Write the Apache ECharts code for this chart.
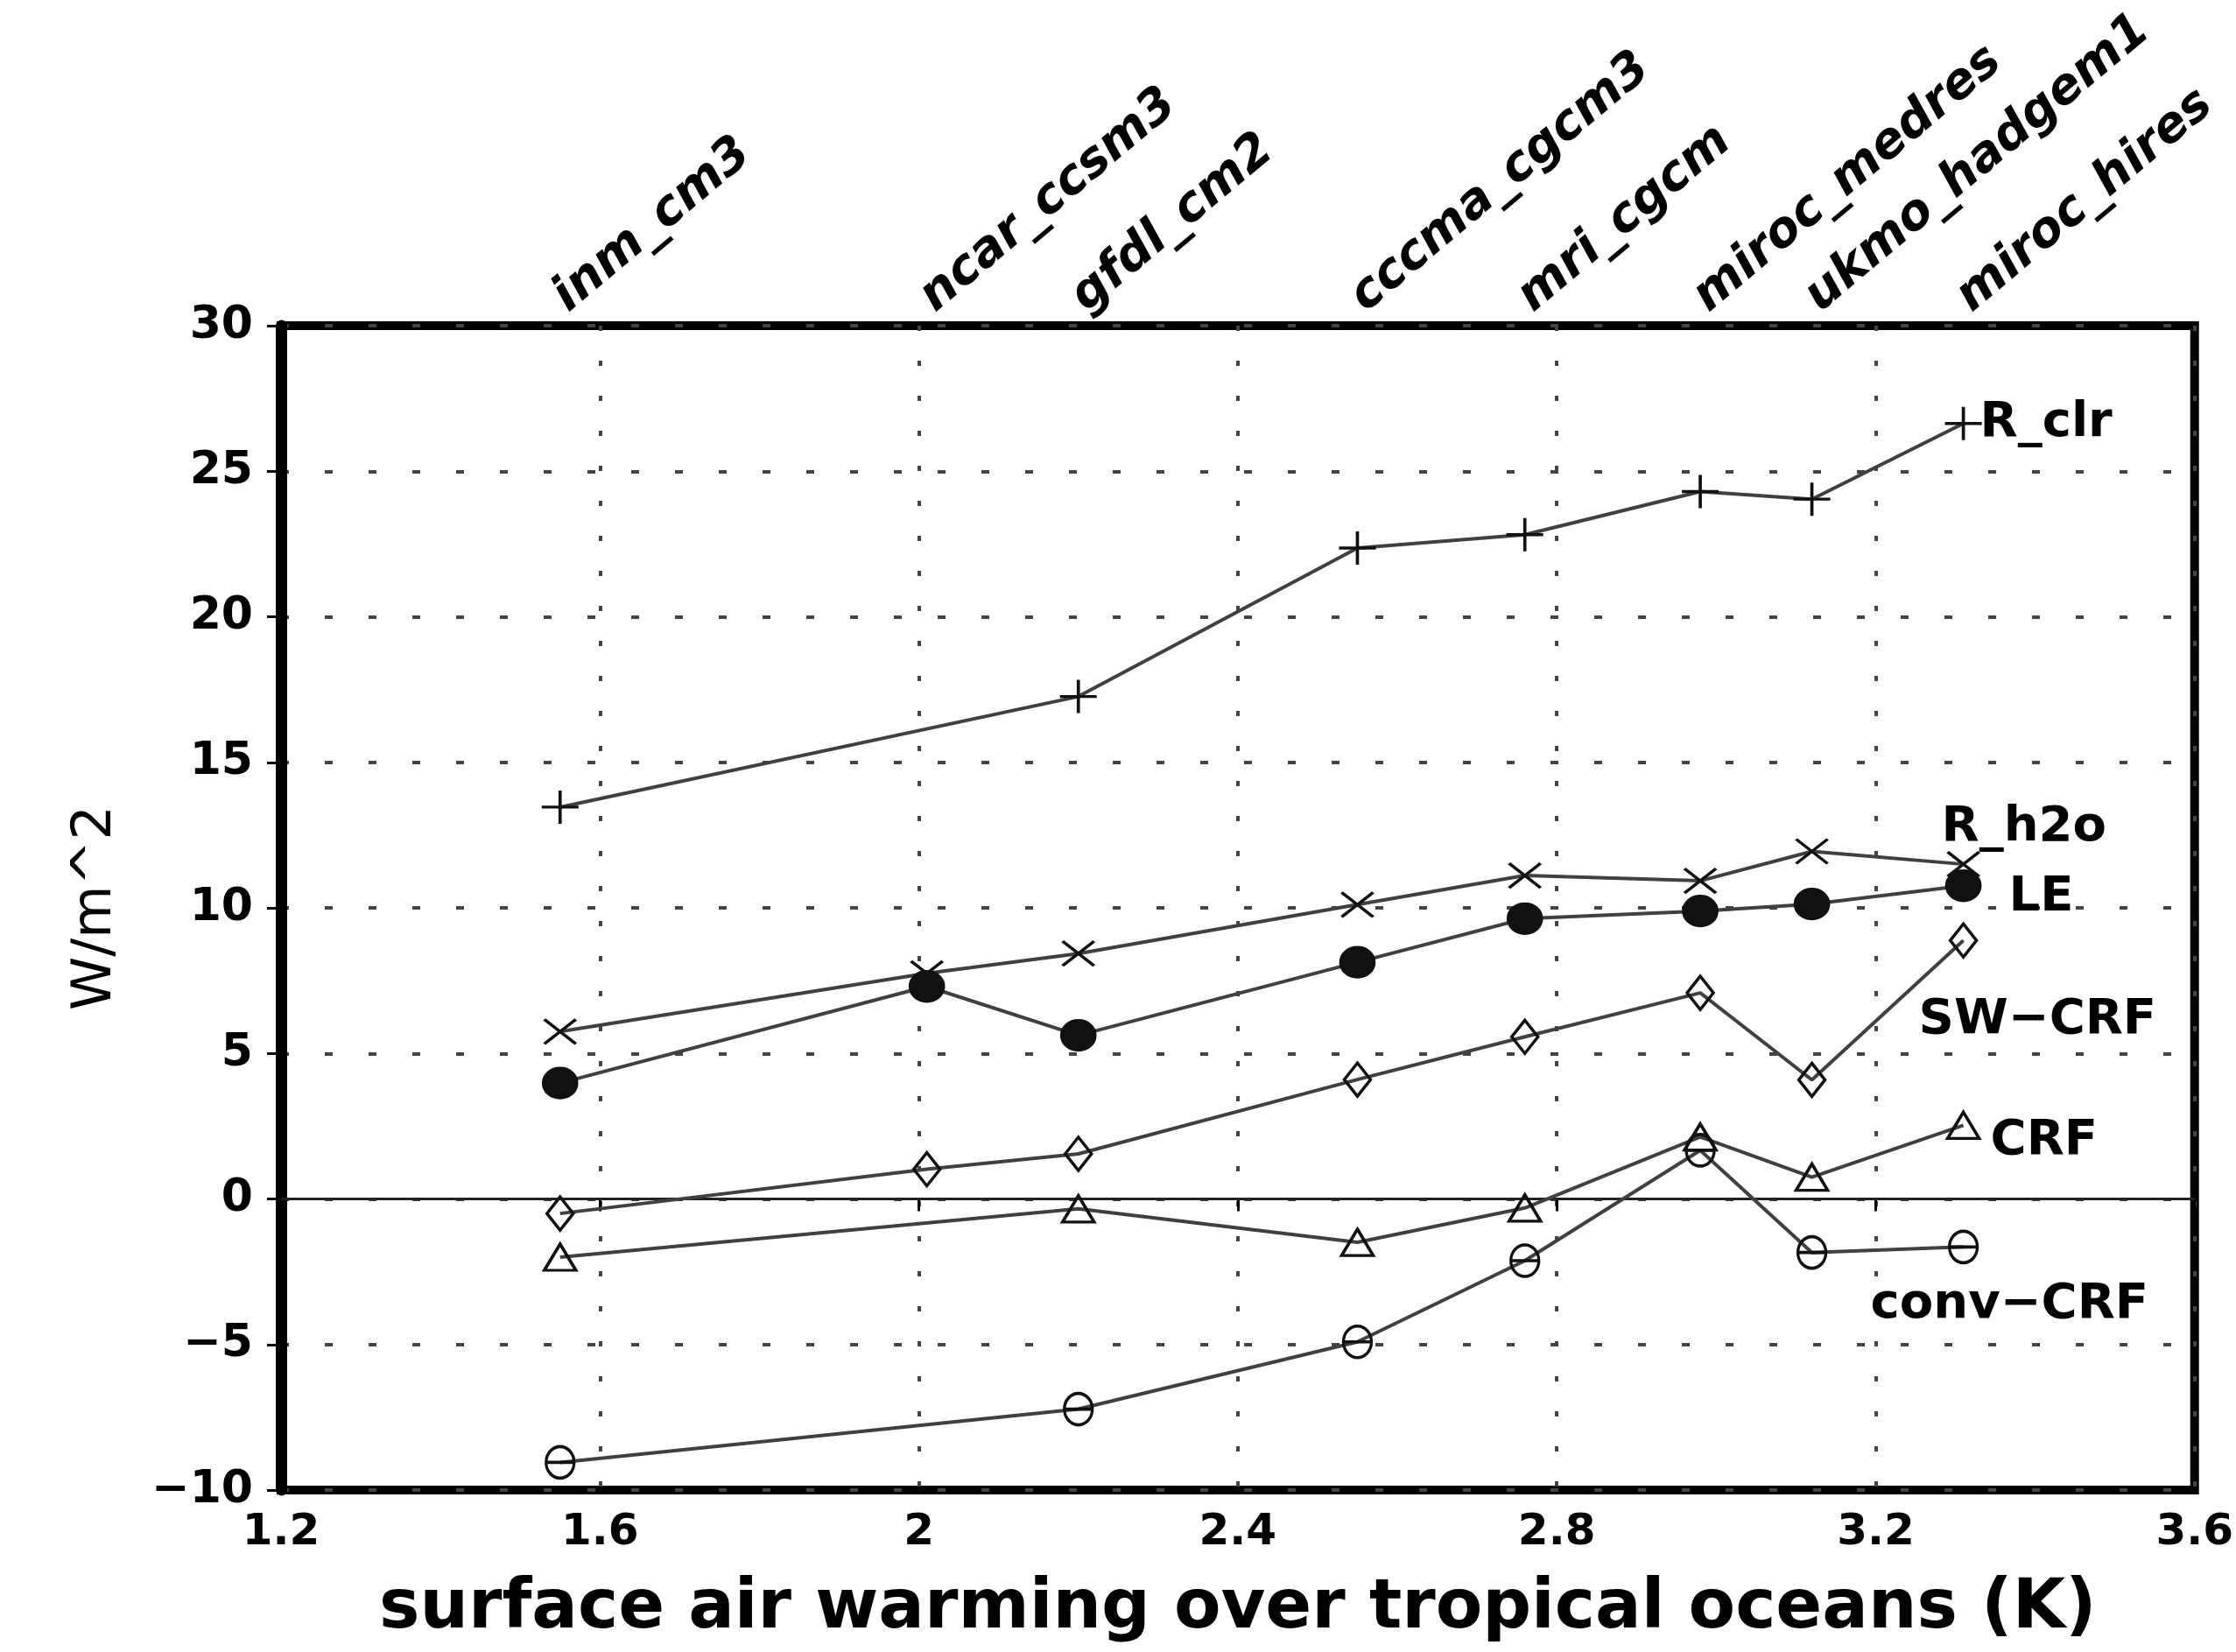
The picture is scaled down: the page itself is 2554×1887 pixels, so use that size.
<!DOCTYPE html>
<html>
<head>
<meta charset="utf-8">
<script src="https://cdn.jsdelivr.net/npm/echarts@6/dist/echarts.min.js"></script>
<style>
html,body{margin:0;padding:0;background:#fff;}
#chart{width:2554px;height:1887px;}
</style>
</head>
<body>
<div id="chart"></div>
<script>
// ---- data ----
const models = ['inm_cm3','ncar_ccsm3','gfdl_cm2','cccma_cgcm3','mri_cgcm','miroc_medres','ukmo_hadgem1','miroc_hires'];
const warming = [1.55, 2.01, 2.20, 2.55, 2.76, 2.98, 3.12, 3.31];
const R_clr    = [13.46, null, 17.26, 22.36, 22.82, 24.30, 24.04, 26.64];
const R_h2o    = [5.75, 7.75, 8.43, 10.11, 11.11, 10.93, 11.94, 11.50];
const LE       = [3.98, 7.30, 5.62, 8.13, 9.63, 9.89, 10.13, 10.76];
const SW_CRF   = [-0.50, 1.02, 1.55, 4.10, 5.57, 7.08, 4.09, 8.88];
const CRF      = [-2.00, null, -0.34, -1.49, -0.31, 2.13, 0.75, 2.53];
const conv_CRF = [-9.05, null, -7.22, -4.91, -2.12, 1.67, -1.84, -1.65];
const seriesNames = ['R_clr', 'R_h2o', 'LE', 'SW\u2212CRF', 'CRF', 'conv\u2212CRF'];
const xTicks = {min: 1.2, max: 3.6, interval: 0.4};
const yTicks = {min: -10, max: 30, interval: 5};

// ---- styling ----
const LINE_COLOR = '#404040';
const MARK_COLOR = '#111';
const symbols = [
  {symbol: 'path://M0,5L10,5M5,0L5,10', size: [42, 38], fill: 'transparent'},
  {symbol: 'path://M0,0L10,10M10,0L0,10', size: [36, 28], fill: 'transparent'},
  {symbol: 'circle', size: [38, 34], fill: MARK_COLOR},
  {symbol: 'diamond', size: [30, 38], fill: 'transparent'},
  {symbol: 'triangle', size: [36, 30], fill: 'transparent'},
  {symbol: 'path://M5,0A5,5 0 1,1 5,10A5,5 0 1,1 5,0ZM0.5,5L9.5,5', size: [32, 36], fill: 'transparent'}
];
// label offsets (left edge / vertical centre relative to last marker)
const labelOffsets = [[19, 0], [-25, -42], [52, 14], [-51, 91], [31, 18], [-106, 66]];

const allValues = [R_clr, R_h2o, LE, SW_CRF, CRF, conv_CRF];

function buildData(vals, idx) {
  const pts = [];
  warming.forEach((x, i) => { if (vals[i] !== null) pts.push([x, vals[i]]); });
  return pts.map((p, k) => {
    if (k === pts.length - 1) {
      return {
        value: p,
        label: {
          show: true,
          formatter: seriesNames[idx],
          position: 'inside',
          align: 'left',
          verticalAlign: 'middle',
          offset: labelOffsets[idx],
          fontFamily: 'DejaVu Sans',
          fontWeight: 'bold',
          fontSize: 56,
          color: '#000'
        }
      };
    }
    return {value: p};
  });
}

const series = allValues.map((vals, idx) => {
  const s = {
    name: seriesNames[idx],
    type: 'line',
    xAxisIndex: 0,
    yAxisIndex: 0,
    data: buildData(vals, idx),
    symbol: symbols[idx].symbol,
    symbolSize: symbols[idx].size,
    showAllSymbol: true,
    lineStyle: {color: LINE_COLOR, width: 4},
    itemStyle: {color: symbols[idx].fill, borderColor: MARK_COLOR, borderWidth: 3.5},
    emphasis: {disabled: true},
    z: 3 + idx
  };
  if (idx === 0) {
    s.markLine = {
      silent: true,
      symbol: 'none',
      label: {show: false},
      lineStyle: {color: '#222', width: 3, type: 'solid'},
      data: [{yAxis: 0}]
    };
  }
  return s;
});

const chart = echarts.init(document.getElementById('chart'), null, {renderer: 'canvas'});
chart.setOption({
  animation: false,
  backgroundColor: '#fff',
  grid: {
    left: 321, right: 35, top: 372, bottom: 185,
    show: true, borderColor: '#000', borderWidth: 10, backgroundColor: 'transparent'
  },
  xAxis: [
    {
      type: 'value',
      position: 'bottom',
      min: xTicks.min, max: xTicks.max, interval: xTicks.interval,
      name: 'surface air warming over tropical oceans (K)',
      nameLocation: 'middle',
      nameGap: 98,
      nameTextStyle: {fontFamily: 'DejaVu Sans', fontWeight: 'bold', fontSize: 78, color: '#000'},
      axisLine: {show: false},
      axisTick: {show: true, inside: false, length: 14, lineStyle: {color: '#000', width: 3}},
      axisLabel: {margin: 24, fontFamily: 'DejaVu Sans', fontWeight: 'bold', fontSize: 50, color: '#000'},
      splitLine: {show: true, lineStyle: {type: [6, 34], width: 4, color: '#444'}}
    },
    {
      type: 'value',
      position: 'top',
      min: xTicks.min, max: xTicks.max,
      axisLine: {show: false},
      axisTick: {show: false},
      splitLine: {show: false},
      axisLabel: {
        customValues: warming,
        formatter: function (v) {
          let best = 0;
          warming.forEach((w, i) => { if (Math.abs(w - v) < Math.abs(warming[best] - v)) best = i; });
          return models[best];
        },
        rotate: -40,
        margin: 26,
        fontFamily: 'DejaVu Sans',
        fontStyle: 'italic',
        fontWeight: 'bold',
        fontSize: 56,
        color: '#000'
      }
    }
  ],
  yAxis: [
    {
      type: 'value',
      min: yTicks.min, max: yTicks.max, interval: yTicks.interval,
      name: 'W/m^2',
      nameLocation: 'middle',
      nameGap: 180,
      nameRotate: 90,
      nameTextStyle: {fontFamily: 'DejaVu Sans', fontSize: 62, color: '#000'},
      axisLine: {show: true, lineStyle: {color: '#000', width: 13}},
      axisTick: {show: true, inside: false, length: 16, lineStyle: {color: '#000', width: 3}},
      axisLabel: {
        margin: 32,
        fontFamily: 'DejaVu Sans', fontWeight: 'bold', fontSize: 52, color: '#000',
        formatter: function (v) { return String(v).replace('-', '\u2212'); }
      },
      splitLine: {show: true, lineStyle: {type: [9, 41], width: 4, color: '#444'}}
    }
  ],
  series: series
});
</script>
</body>
</html>
